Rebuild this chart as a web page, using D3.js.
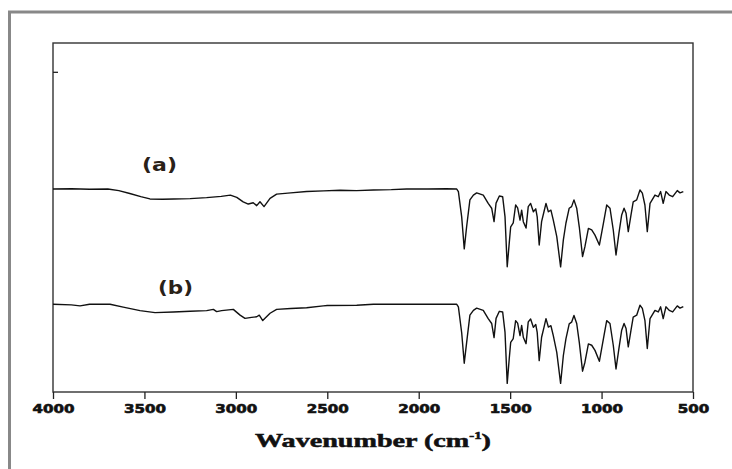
<!DOCTYPE html>
<html>
<head>
<meta charset="utf-8">
<script src="https://cdn.jsdelivr.net/npm/d3@7"></script>
<style>
  html, body { margin: 0; padding: 0; background: #fff; }
  .js-chart { width: 732px; height: 469px; }
</style>
</head>
<body>
<div class="js-chart"></div>
<script>
// Wavenumber ticks on the bottom axis (cm-1)
var xTicks = [4000, 3500, 3000, 2500, 2000, 1500, 1000, 500];

// Spectrum (a): wavenumber / relative transmittance (offset units)
var wavenumbersA = [4000, 3900, 3800, 3700, 3640, 3580, 3520, 3470, 3400, 3340, 3250, 3160, 3080, 3030,
  2995, 2960, 2932, 2905, 2886, 2868, 2846, 2813, 2777, 2700, 2613, 2520, 2430, 2340, 2248, 2150, 2066,
  1950, 1850, 1792, 1783, 1765, 1751, 1738, 1720, 1701, 1683, 1647, 1620, 1601, 1588, 1577, 1559, 1541,
  1528, 1516, 1505, 1497, 1483, 1470, 1459, 1446, 1437, 1428, 1413, 1401, 1388, 1373, 1360, 1352, 1341,
  1328, 1315, 1304, 1291, 1277, 1264, 1245, 1224, 1209, 1195, 1177, 1164, 1151, 1136, 1122, 1104, 1091,
  1072, 1054, 1036, 1012, 990, 972, 954, 936, 921, 905, 890, 877, 866, 854, 839, 827, 808, 790, 777, 763,
  750, 735, 708, 690, 677, 663, 648, 630, 611, 586, 571, 553];
var transmittanceA = [63.4, 63.5, 63.3, 63.4, 62.9, 62.0, 61.0, 60.3, 60.2, 60.3, 60.4, 60.7, 61.1, 61.5,
  60.8, 59.4, 58.7, 59.1, 58.2, 59.4, 57.9, 60.5, 61.8, 62.2, 62.6, 62.8, 63.0, 62.9, 63.1, 63.2, 63.4,
  63.4, 63.5, 63.4, 62.6, 54.7, 44.7, 51.6, 60.0, 61.5, 62.2, 61.5, 58.9, 57.4, 53.2, 59.0, 61.2, 61.0,
  54.7, 39.1, 46.5, 51.6, 52.8, 58.4, 57.5, 53.7, 56.8, 53.2, 51.2, 57.9, 58.9, 56.3, 57.2, 54.7, 45.9,
  53.2, 56.3, 58.9, 56.3, 56.8, 53.7, 48.5, 39.1, 47.5, 52.7, 57.4, 57.9, 60.0, 57.4, 51.6, 42.3, 45.4,
  51.1, 50.6, 49.0, 45.9, 52.7, 58.4, 57.4, 50.6, 42.8, 49.6, 55.3, 57.4, 55.8, 50.1, 55.3, 59.4, 60.0,
  63.1, 62.1, 58.4, 50.1, 58.9, 61.5, 61.0, 62.6, 58.9, 62.6, 61.5, 61.0, 62.9, 62.2, 62.6];

// Spectrum (b)
var wavenumbersB = [4000, 3900, 3852, 3800, 3688, 3616, 3524, 3442, 3342, 3250, 3160, 3123, 3105, 3078,
  3014, 2977, 2950, 2914, 2886, 2872, 2853, 2813, 2777, 2700, 2613, 2522, 2500, 2339, 2248, 2100, 1950,
  1792, 1783, 1765, 1751, 1738, 1720, 1701, 1683, 1647, 1620, 1601, 1588, 1577, 1559, 1541, 1528, 1516,
  1505, 1497, 1483, 1470, 1459, 1446, 1437, 1428, 1413, 1401, 1388, 1373, 1360, 1352, 1341, 1328, 1315,
  1304, 1291, 1277, 1264, 1245, 1224, 1209, 1195, 1177, 1164, 1151, 1136, 1122, 1104, 1091, 1072, 1054,
  1036, 1012, 990, 972, 954, 936, 921, 905, 890, 877, 866, 854, 839, 827, 808, 790, 777, 763, 750, 735,
  708, 690, 677, 663, 648, 630, 611, 586, 571, 553];
var transmittanceB = [27.4, 27.2, 26.9, 27.4, 27.4, 26.5, 25.4, 24.8, 25.0, 25.2, 25.4, 25.8, 25.1, 25.4,
  25.8, 24.0, 23.0, 23.3, 23.5, 24.0, 22.3, 24.6, 25.8, 26.1, 26.3, 26.9, 27.0, 27.1, 27.4, 27.4, 27.4,
  27.4, 26.6, 18.5, 9.0, 15.4, 24.0, 25.5, 26.2, 25.5, 22.9, 21.4, 17.0, 23.0, 25.2, 25.0, 18.6, 2.7,
  10.4, 15.5, 16.7, 22.3, 21.5, 17.6, 20.8, 17.1, 15.1, 21.9, 22.8, 20.2, 21.1, 18.6, 9.8, 17.1, 20.2,
  22.9, 20.3, 20.7, 17.6, 12.4, 2.7, 11.4, 16.6, 21.3, 21.8, 23.9, 21.4, 15.6, 6.5, 9.3, 15.0, 14.6,
  13.0, 9.6, 16.6, 22.3, 21.4, 14.6, 7.2, 13.6, 19.3, 21.4, 19.8, 14.1, 19.3, 23.4, 24.0, 27.1, 26.1,
  22.4, 13.6, 22.9, 25.5, 25.0, 26.6, 22.9, 26.6, 25.5, 25.0, 26.9, 26.2, 26.7];

var seriesLabels = ['(a)', '(b)'];

;(function() {
  'use strict';

  var container = d3.select('.js-chart');
  var totalW = 732,
      totalH = 469;
  var margin = {top: 43, right: 39, bottom: 77, left: 53};

  var svg = container.append('svg')
                      .attr('width', totalW)
                      .attr('height', totalH)
                      .style('display', 'block');

  svg.append('rect')
      .attr('width', totalW)
      .attr('height', totalH)
      .attr('fill', '#fff');

  // Grey outer frame, runs off the right and bottom edges.
  svg.append('rect')
      .attr('x', 9.5)
      .attr('y', 12)
      .attr('width', totalW + 20)
      .attr('height', totalH + 20)
      .attr('fill', 'none')
      .attr('stroke', '#888')
      .attr('stroke-width', 3);

  var xScale = d3.scaleLinear()
                  .domain([4000, 500])
                  .range([margin.left, totalW - margin.right]);

  var yScale = d3.scaleLinear()
                  .domain([0, 109])
                  .range([totalH - margin.bottom, margin.top]);

  // Plot box.
  svg.append('rect')
      .attr('x', margin.left)
      .attr('y', margin.top)
      .attr('width', totalW - margin.left - margin.right)
      .attr('height', totalH - margin.top - margin.bottom)
      .attr('fill', 'none')
      .attr('stroke', '#333')
      .attr('stroke-width', 1.4);

  // Bottom axis, ticks outside.
  var xAxis = svg.append('g')
                  .attr('transform', 'translate(0,' + (totalH - margin.bottom) + ')')
                  .call(d3.axisBottom(xScale)
                          .tickValues(xTicks)
                          .tickSize(7)
                          .tickSizeOuter(0)
                          .tickFormat(d3.format('d')));
  xAxis.select('.domain').remove();
  xAxis.selectAll('line').attr('stroke', '#222').attr('stroke-width', 1.3);
  // Labels in the picture are heavy and stretched sideways.
  xAxis.selectAll('text')
      .attr('y', 13)
      .attr('fill', '#111')
      .attr('stroke', '#111')
      .attr('stroke-width', 0.6)
      .style('font-family', "'DejaVu Sans', sans-serif")
      .style('font-weight', 'bold')
      .style('font-size', '11.5px')
      .attr('textLength', function(d) { return String(d).length * 10.5; })
      .attr('lengthAdjust', 'spacingAndGlyphs');

  // Single inner tick on the left edge.
  var yAxis = svg.append('g')
                  .attr('transform', 'translate(' + margin.left + ',0)')
                  .call(d3.axisRight(yScale)
                          .tickValues([100])
                          .tickSize(5)
                          .tickFormat(''));
  yAxis.select('.domain').remove();
  yAxis.selectAll('line').attr('stroke', '#222').attr('stroke-width', 1.3);

  // Axis title.
  var title = svg.append('text')
                  .attr('x', (margin.left + totalW - margin.right) / 2)
                  .attr('y', 447)
                  .attr('text-anchor', 'middle')
                  .attr('fill', '#111')
                  .attr('stroke', '#111')
                  .attr('stroke-width', 0.5)
                  .attr('textLength', 236)
                  .attr('lengthAdjust', 'spacingAndGlyphs')
                  .style('font-family', "'Liberation Serif', serif")
                  .style('font-weight', 'bold')
                  .style('font-size', '19px');
  title.append('tspan').text('Wavenumber (cm');
  title.append('tspan').attr('dy', -8).style('font-size', '10px').text('-1');
  title.append('tspan').attr('dy', 8).text(')');

  // Spectra.
  var line = d3.line()
                .x(function(d) { return xScale(d[0]); })
                .y(function(d) { return yScale(d[1]); });

  var series = [
    d3.zip(wavenumbersA, transmittanceA),
    d3.zip(wavenumbersB, transmittanceB)
  ];

  svg.selectAll('.js-line')
      .data(series)
    .enter()
      .append('path')
      .classed('js-line', true)
      .attr('d', line)
      .attr('fill', 'none')
      .attr('stroke', '#111')
      .attr('stroke-width', 1.4)
      .attr('stroke-linejoin', 'round');

  // Series labels (a), (b).
  var labelPos = [[142, 171], [158, 294]];
  svg.selectAll('.series-label')
      .data(seriesLabels)
    .enter()
      .append('text')
      .classed('series-label', true)
      .attr('x', function(d, i) { return labelPos[i][0]; })
      .attr('y', function(d, i) { return labelPos[i][1]; })
      .attr('fill', '#2a2118')
      .attr('textLength', 35)
      .attr('lengthAdjust', 'spacingAndGlyphs')
      .style('font-family', "'DejaVu Sans', sans-serif")
      .style('font-weight', 'bold')
      .style('font-size', '18.5px')
      .text(function(d) { return d; });

}());
</script>
</body>
</html>
